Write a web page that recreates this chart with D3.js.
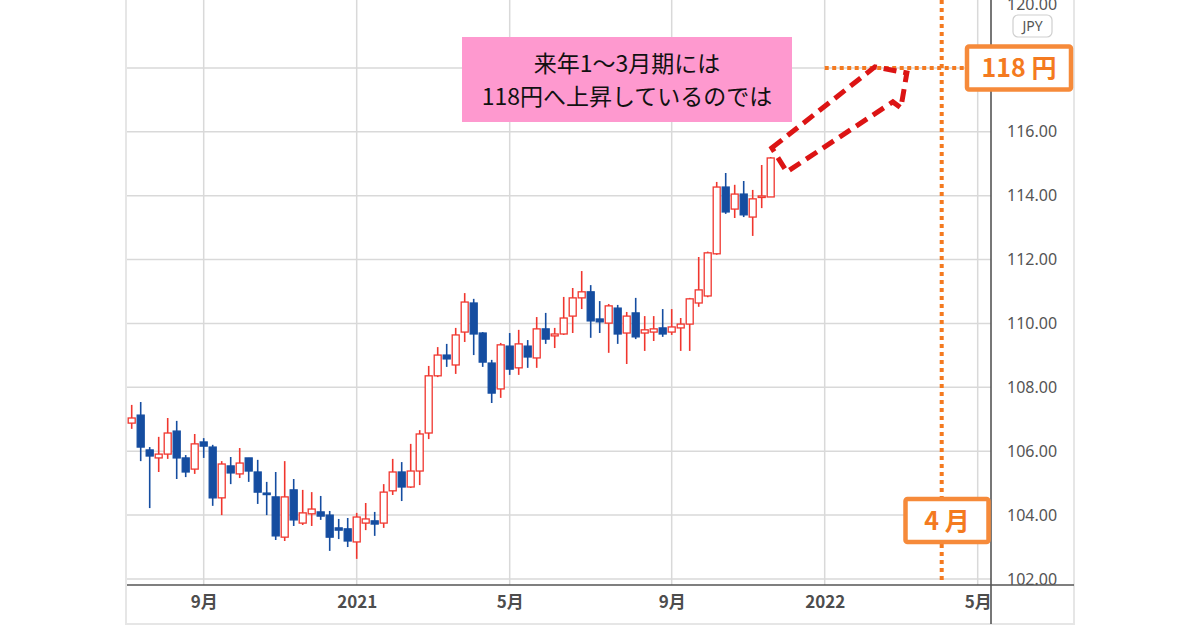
<!DOCTYPE html>
<html lang="ja">
<head>
<meta charset="utf-8">
<script src="https://cdn.jsdelivr.net/npm/d3@7"></script>
<style>
  html, body { margin: 0; padding: 0; background: #fff; }
  svg { display: block; }
</style>
</head>
<body>
<svg id="chart" width="1200" height="630"></svg>
<script>
// Weekly USD/JPY candles (week start dates)
const weeks = [
  '2020-07-13','2020-07-20','2020-07-27','2020-08-03','2020-08-10','2020-08-17','2020-08-24','2020-08-31',
  '2020-09-07','2020-09-14','2020-09-21','2020-09-28','2020-10-05','2020-10-12','2020-10-19','2020-10-26',
  '2020-11-02','2020-11-09','2020-11-16','2020-11-23','2020-11-30','2020-12-07','2020-12-14','2020-12-21',
  '2020-12-28','2021-01-04','2021-01-11','2021-01-18','2021-01-25','2021-02-01','2021-02-08','2021-02-15',
  '2021-02-22','2021-03-01','2021-03-08','2021-03-15','2021-03-22','2021-03-29','2021-04-05','2021-04-12',
  '2021-04-19','2021-04-26','2021-05-03','2021-05-10','2021-05-17','2021-05-24','2021-05-31','2021-06-07',
  '2021-06-14','2021-06-21','2021-06-28','2021-07-05','2021-07-12','2021-07-19','2021-07-26','2021-08-02',
  '2021-08-09','2021-08-16','2021-08-23','2021-08-30','2021-09-06','2021-09-13','2021-09-20','2021-09-27',
  '2021-10-04','2021-10-11','2021-10-18','2021-10-25','2021-11-01','2021-11-08','2021-11-15','2021-11-22'
];
const opens = [
  106.88,107.13,106.04,105.79,105.91,106.63,105.79,105.44,106.29,106.13,104.54,105.54,105.29,105.79,105.35,104.69,
  104.57,103.31,104.79,103.75,104.04,104.10,104.00,103.60,103.57,103.16,103.75,103.82,103.75,104.76,105.35,104.88,
  105.38,106.57,108.36,109.01,108.70,109.73,110.64,109.70,108.76,107.95,109.29,108.61,109.29,108.92,109.83,109.61,
  109.67,110.23,110.80,110.99,110.14,110.01,110.48,109.70,110.33,109.70,109.73,109.86,109.73,109.86,109.98,110.64,
  110.86,112.18,114.27,113.58,114.05,113.33,113.96,113.96
];
const highs = [
  107.45,107.54,106.13,106.45,107.04,106.95,105.88,106.54,106.41,106.20,105.69,105.82,106.10,105.79,105.73,105.04,
  105.35,105.69,105.13,104.79,104.72,104.60,104.13,103.88,103.91,104.07,104.38,104.10,104.97,105.76,105.66,106.23,
  106.66,108.67,109.26,109.36,109.86,110.95,110.77,109.73,108.86,109.39,109.70,109.80,109.48,110.20,110.33,109.86,
  110.83,111.11,111.64,111.20,110.70,110.61,110.58,110.36,110.80,110.23,110.23,110.45,110.45,110.17,110.80,112.08,
  112.25,114.43,114.71,114.34,114.46,114.18,114.96,115.21
];
const lows = [
  106.70,105.69,104.22,105.35,105.76,105.13,105.19,105.29,105.79,104.29,104.00,104.97,105.16,105.04,104.35,104.00,
  103.22,103.19,103.66,103.69,103.66,103.85,102.88,103.25,103.00,102.63,103.53,103.35,103.60,104.63,104.44,104.85,
  104.94,106.38,108.32,108.64,108.42,109.42,109.01,108.64,107.51,107.67,108.39,108.39,108.61,108.61,109.36,109.23,
  109.64,109.70,110.45,109.55,109.70,109.08,109.36,108.73,109.51,109.14,109.45,109.58,109.64,109.14,109.14,110.52,
  110.82,112.15,113.43,113.30,113.33,112.74,113.61,113.96
];
const closes = [
  107.04,106.13,105.85,105.91,106.57,105.79,105.35,106.23,106.16,104.54,105.60,105.32,105.63,105.38,104.72,104.66,
  103.35,104.57,103.85,104.07,104.19,103.97,103.31,103.53,103.19,103.94,103.88,103.72,104.72,105.35,104.88,105.38,
  106.54,108.36,109.01,108.89,109.64,110.67,109.67,108.79,107.82,109.33,108.57,109.36,108.95,109.83,109.51,109.67,
  110.17,110.80,110.99,110.08,110.05,110.55,109.67,110.23,109.58,109.80,109.83,109.67,109.89,109.98,110.77,111.05,
  112.21,114.27,113.49,114.05,113.40,113.90,113.99,115.18
];

const priceTicks = [102, 104, 106, 108, 110, 112, 114, 116, 118, 120];
const timeTicks = ['2020-09-07', '2021-01-04', '2021-05-03', '2021-09-06', '2022-01-03', '2022-05-02'];
const timeTickLabels = ['9月', '2021', '5月', '9月', '2022', '5月'];

const targetPrice = 118;
const targetMonth = '2022-04-04';
const targetLineStart = '2022-01-03';
const arrowTip = '2022-02-11';
const noteLines = ['来年1～3月期には', '118円へ上昇しているのでは'];

const parse = d3.timeParse('%Y-%m-%d');
const candles = weeks.map((w, i) => ({
  date: parse(w), open: opens[i], high: highs[i], low: lows[i], close: closes[i]
}));

// layout
const plot = { left: 127, right: 991, top: 0, bottom: 585 };
const frameRight = 1074, frameBottom = 624;
const upColor = '#f0362e', downColor = '#154da0';
const orange = '#f47a20', boxOrange = '#f68a3a';
const jp = '"Noto Sans CJK JP", "Noto Sans", sans-serif';

const svg = d3.select('#chart');

const x = d3.scaleTime()
  .domain([parse('2020-07-13'), parse('2022-05-02')])
  .range([131.7, 977.7]);
const y = d3.scaleLinear().domain([102, 120]).range([579, 4]);

const defs = svg.append('defs');
defs.append('clipPath').attr('id', 'plotClip')
  .append('rect').attr('x', plot.left).attr('y', plot.top)
  .attr('width', plot.right - plot.left).attr('height', plot.bottom - plot.top);
defs.append('clipPath').attr('id', 'axisClip')
  .append('rect').attr('x', plot.right).attr('y', 0)
  .attr('width', frameRight - plot.right).attr('height', plot.bottom);

// outer frame
svg.append('rect')
  .attr('x', plot.left - 1).attr('y', -2)
  .attr('width', frameRight - plot.left + 1).attr('height', frameBottom + 2)
  .attr('fill', '#fff').attr('stroke', '#e6e6e6').attr('stroke-width', 2);

const g = svg.append('g').attr('clip-path', 'url(#plotClip)');

// grid (the top level sits on the edge and is not drawn)
g.append('g').selectAll('line')
  .data(priceTicks.filter(d => y(d) > 8))
  .join('line')
  .attr('x1', plot.left).attr('x2', plot.right)
  .attr('y1', d => y(d)).attr('y2', d => y(d))
  .attr('stroke', '#d9d9d9').attr('stroke-width', 1.5);

g.append('g').selectAll('line')
  .data(timeTicks.map(parse))
  .join('line')
  .attr('x1', d => x(d)).attr('x2', d => x(d))
  .attr('y1', plot.top).attr('y2', plot.bottom)
  .attr('stroke', '#d9d9d9').attr('stroke-width', 1.5);

// candles
const bodyW = 7;
const c = g.append('g').selectAll('g')
  .data(candles)
  .join('g');

c.append('line')
  .attr('x1', d => x(d.date)).attr('x2', d => x(d.date))
  .attr('y1', d => y(d.high)).attr('y2', d => y(d.low))
  .attr('stroke', d => d.close >= d.open ? upColor : downColor)
  .attr('stroke-width', 1.6);

c.append('rect')
  .attr('x', d => x(d.date) - bodyW / 2)
  .attr('y', d => y(Math.max(d.open, d.close)))
  .attr('width', bodyW)
  .attr('height', d => Math.max(1.5, Math.abs(y(d.open) - y(d.close))))
  .attr('fill', d => d.close >= d.open ? '#fff' : downColor)
  .attr('stroke', d => d.close >= d.open ? upColor : downColor)
  .attr('stroke-width', 1.3);

// orange target lines
g.append('line')
  .attr('x1', x(parse(targetMonth))).attr('x2', x(parse(targetMonth)))
  .attr('y1', plot.top).attr('y2', plot.bottom - 4)
  .attr('stroke', orange).attr('stroke-width', 4)
  .attr('stroke-dasharray', '4 4');

svg.append('line')
  .attr('x1', x(parse(targetLineStart))).attr('x2', 966)
  .attr('y1', y(targetPrice)).attr('y2', y(targetPrice))
  .attr('stroke', orange).attr('stroke-width', 4)
  .attr('stroke-dasharray', '4 3.5');

// dashed block arrow
const ax = x(parse(arrowTip)), ay = y(targetPrice);
const arrowPts = [[-103, 80], [0, -1], [32, 5], [26, 40], [18, 34], [-88, 104]];
svg.append('path')
  .attr('d', 'M' + arrowPts.map(p => [ax + p[0], ay + p[1]].join(',')).join('L') + 'Z')
  .attr('fill', 'none')
  .attr('stroke', '#dc1414').attr('stroke-width', 5)
  .attr('stroke-dasharray', '13 7')
  .attr('stroke-linejoin', 'miter');

// note box
const note = svg.append('g');
note.append('rect')
  .attr('x', 462).attr('y', 37).attr('width', 330).attr('height', 85)
  .attr('fill', '#fe99cf');
note.selectAll('text')
  .data(noteLines)
  .join('text')
  .attr('x', 627).attr('y', (d, i) => 72 + i * 33)
  .attr('text-anchor', 'middle')
  .attr('font-family', jp).attr('font-size', 23)
  .attr('fill', '#111')
  .text(d => d);

// axes lines
svg.append('line')
  .attr('x1', plot.left).attr('x2', frameRight)
  .attr('y1', plot.bottom).attr('y2', plot.bottom)
  .attr('stroke', '#555').attr('stroke-width', 1.6);
svg.append('line')
  .attr('x1', plot.right).attr('x2', plot.right)
  .attr('y1', -2).attr('y2', frameBottom)
  .attr('stroke', '#555').attr('stroke-width', 1.6);

// x axis labels
const xAxis = d3.axisBottom(x)
  .tickValues(timeTicks.map(parse))
  .tickFormat((d, i) => timeTickLabels[i])
  .tickSize(0).tickPadding(11);
const xg = svg.append('g')
  .attr('transform', `translate(0,${plot.bottom})`)
  .call(xAxis);
xg.select('.domain').remove();
xg.selectAll('text')
  .attr('font-family', jp).attr('font-size', 17).attr('font-weight', 600)
  .attr('fill', '#4d4d4d');

// y axis labels (the target level label sits under the 118 box)
const yAxis = d3.axisRight(y)
  .tickValues(priceTicks.filter(d => d !== targetPrice))
  .tickFormat(d3.format('.2f'))
  .tickSize(0).tickPadding(16);
const yg = svg.append('g')
  .attr('clip-path', 'url(#axisClip)')
  .append('g')
  .attr('transform', `translate(${plot.right},0)`)
  .call(yAxis);
yg.select('.domain').remove();
yg.selectAll('text')
  .attr('font-family', '"Noto Sans", sans-serif').attr('font-size', 16)
  .attr('fill', '#555');

// currency badge
svg.append('rect')
  .attr('x', 1013).attr('y', 15).attr('width', 39).attr('height', 22).attr('rx', 5)
  .attr('fill', '#fff').attr('stroke', '#cfcfcf').attr('stroke-width', 1.2);
svg.append('text')
  .attr('x', 1032.5).attr('y', 31).attr('text-anchor', 'middle')
  .attr('font-family', '"Noto Sans", sans-serif').attr('font-size', 14)
  .attr('fill', '#555').text('JPY');

// orange label boxes
function labelBox(cx, cy, w, h, label) {
  svg.append('rect')
    .attr('x', cx - w / 2).attr('y', cy - h / 2).attr('width', w).attr('height', h)
    .attr('rx', 2).attr('fill', '#fff')
    .attr('stroke', boxOrange).attr('stroke-width', 4.5);
  svg.append('text')
    .attr('x', cx).attr('y', cy + 9).attr('text-anchor', 'middle')
    .attr('font-family', jp).attr('font-size', 25).attr('font-weight', 700)
    .attr('fill', orange).text(label);
}
labelBox(1019, y(targetPrice), 104, 43, `${targetPrice} 円`);
labelBox(947, 520.5, 83, 43, '4 月');
</script>
</body>
</html>
